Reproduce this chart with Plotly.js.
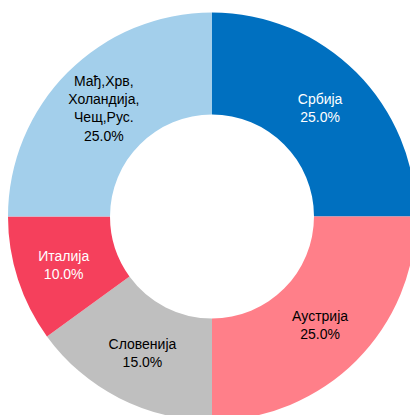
<!DOCTYPE html>
<html>
<head>
<meta charset="utf-8">
<script src="https://cdn.plot.ly/plotly-3.0.1.min.js"></script>
<style>
html,body{margin:0;padding:0;overflow:hidden;background:#fff;width:410px;height:415px;}
#chart{width:420px;height:425px;}
</style>
</head>
<body>
<div id="chart"></div>
<script>
const categories = ["Србија", "Аустрија", "Словенија", "Италија", "Мађ,Хрв,<br>Холандија,<br>Чещ,Рус."];
const shares = [25, 25, 15, 10, 25];
const sliceColors = ["#0070C0", "#FF7F89", "#BFBFBF", "#F5405C", "#A3CFEB"];
const textColors = ["#FFFFFF", "#000000", "#000000", "#FFFFFF", "#000000"];

const trace = {
  type: "pie",
  labels: categories,
  values: shares,
  sort: false,
  direction: "clockwise",
  rotation: 0,
  hole: 0.5,
  marker: {colors: sliceColors, line: {width: 0}},
  texttemplate: "%{label}<br>%{value:.1f}%",
  textposition: "inside",
  insidetextorientation: "horizontal",
  insidetextfont: {family: "Liberation Sans, Arial, sans-serif", size: 14, color: textColors},
  showlegend: false,
  hoverinfo: "none"
};

const layout = {
  width: 420,
  height: 425,
  margin: {l: 8, r: 4, t: 12, b: 4},
  paper_bgcolor: "#ffffff",
  plot_bgcolor: "#ffffff",
  showlegend: false
};

Plotly.newPlot("chart", [trace], layout, {displayModeBar: false, staticPlot: true});
</script>
</body>
</html>
